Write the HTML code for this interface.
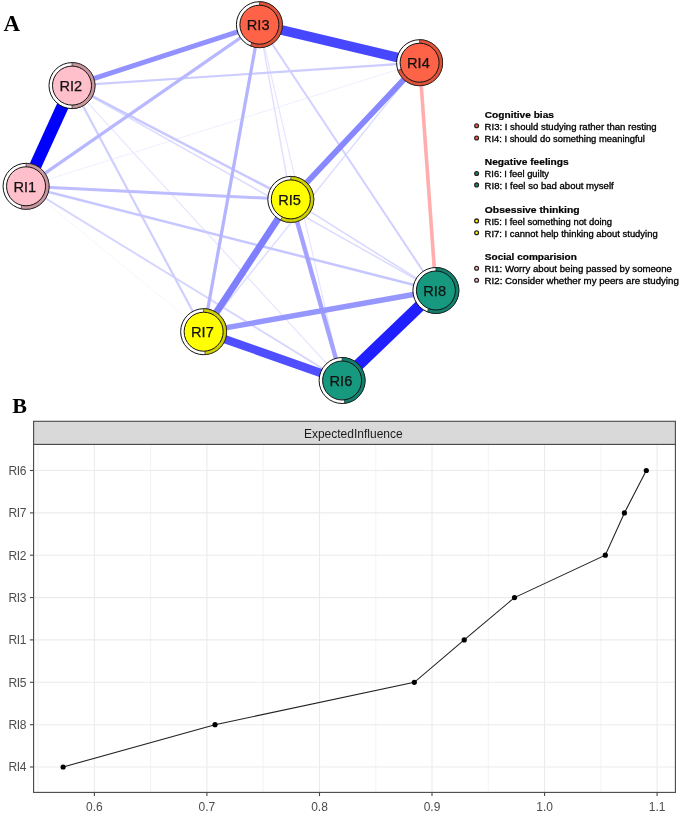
<!DOCTYPE html>
<html><head><meta charset="utf-8"><title>Figure</title>
<style>html,body{margin:0;padding:0;background:#fff}svg{display:block}text{font-family:"Liberation Sans",Arial,sans-serif}.ser{font-family:"Liberation Serif","Times New Roman",serif;font-weight:bold}</style></head><body>
<svg width="685" height="816" viewBox="0 0 685 816">
<rect width="685" height="816" fill="#fff"/>
<g stroke-linecap="butt" fill="none">
<line x1="26.05" y1="186.3" x2="203.65" y2="331.7" stroke="#f2f2ff" stroke-width="0.8"/>
<line x1="26.05" y1="186.3" x2="419.6" y2="62.7" stroke="#ededff" stroke-width="0.9"/>
<line x1="259.4" y1="24.7" x2="342.1" y2="380.5" stroke="#e6e6ff" stroke-width="1.2"/>
<line x1="259.4" y1="24.7" x2="290.8" y2="199.4" stroke="#e0e0ff" stroke-width="1.4"/>
<line x1="419.6" y1="62.7" x2="203.65" y2="331.7" stroke="#dedeff" stroke-width="1.5"/>
<line x1="72.0" y1="85.6" x2="342.1" y2="380.5" stroke="#e6e6ff" stroke-width="1.2"/>
<line x1="72.0" y1="85.6" x2="435.9" y2="290.5" stroke="#dbdbff" stroke-width="1.5"/>
<line x1="26.05" y1="186.3" x2="342.1" y2="380.5" stroke="#d6d6ff" stroke-width="2.0"/>
<line x1="290.8" y1="199.4" x2="435.9" y2="290.5" stroke="#d9d9ff" stroke-width="1.6"/>
<line x1="72.0" y1="85.6" x2="203.65" y2="331.7" stroke="#cfcfff" stroke-width="2.2"/>
<line x1="259.4" y1="24.7" x2="435.9" y2="290.5" stroke="#d1d1ff" stroke-width="2.0"/>
<line x1="72.0" y1="85.6" x2="290.8" y2="199.4" stroke="#c9c9ff" stroke-width="2.5"/>
<line x1="72.0" y1="85.6" x2="419.6" y2="62.7" stroke="#ccccff" stroke-width="2.2"/>
<line x1="26.05" y1="186.3" x2="435.9" y2="290.5" stroke="#c7c7ff" stroke-width="2.5"/>
<line x1="26.05" y1="186.3" x2="290.8" y2="199.4" stroke="#bdbdff" stroke-width="3.0"/>
<line x1="26.05" y1="186.3" x2="259.4" y2="24.7" stroke="#b8b8ff" stroke-width="3.3"/>
<line x1="259.4" y1="24.7" x2="203.65" y2="331.7" stroke="#b5b5ff" stroke-width="3.3"/>
<line x1="419.6" y1="62.7" x2="435.9" y2="290.5" stroke="#ffadad" stroke-width="3.6"/>
<line x1="290.8" y1="199.4" x2="342.1" y2="380.5" stroke="#a3a3ff" stroke-width="4.4"/>
<line x1="203.65" y1="331.7" x2="435.9" y2="290.5" stroke="#9696ff" stroke-width="5.4"/>
<line x1="72.0" y1="85.6" x2="259.4" y2="24.7" stroke="#9191ff" stroke-width="4.9"/>
<line x1="419.6" y1="62.7" x2="290.8" y2="199.4" stroke="#8787ff" stroke-width="5.8"/>
<line x1="290.8" y1="199.4" x2="203.65" y2="331.7" stroke="#8080ff" stroke-width="6.9"/>
<line x1="342.1" y1="380.5" x2="203.65" y2="331.7" stroke="#4f4fff" stroke-width="8.4"/>
<line x1="259.4" y1="24.7" x2="419.6" y2="62.7" stroke="#4747ff" stroke-width="9.7"/>
<line x1="342.1" y1="380.5" x2="435.9" y2="290.5" stroke="#1f1fff" stroke-width="11.6"/>
<line x1="26.05" y1="186.3" x2="72.0" y2="85.6" stroke="#0000ff" stroke-width="12.2"/>
</g>
<circle cx="26.05" cy="186.3" r="23.0" fill="#fff" stroke="#111" stroke-width="1"/>
<path d="M26.05,186.3 L26.05,163.3 A23.0,23.0 0 1 1 21.03,208.75 Z" fill="#C9969F" stroke="#111" stroke-width="0.6"/>
<circle cx="26.05" cy="186.3" r="19.5" fill="#FFC0CB" stroke="#111" stroke-width="1"/>
<text x="24.85" y="192.0" font-size="14.6" text-anchor="middle" fill="#111" stroke="#111" stroke-width="0.25">RI1</text>
<circle cx="72.0" cy="85.6" r="23.0" fill="#fff" stroke="#111" stroke-width="1"/>
<path d="M72.0,85.6 L72.0,62.599999999999994 A23.0,23.0 0 0 1 72.00,108.60 Z" fill="#C9969F" stroke="#111" stroke-width="0.6"/>
<circle cx="72.0" cy="85.6" r="19.5" fill="#FFC0CB" stroke="#111" stroke-width="1"/>
<text x="70.80" y="91.3" font-size="14.6" text-anchor="middle" fill="#111" stroke="#111" stroke-width="0.25">RI2</text>
<circle cx="259.4" cy="24.7" r="23.0" fill="#fff" stroke="#111" stroke-width="1"/>
<path d="M259.4,24.7 L259.4,1.6999999999999993 A23.0,23.0 0 1 1 250.40,45.87 Z" fill="#DE5237" stroke="#111" stroke-width="0.6"/>
<circle cx="259.4" cy="24.7" r="19.5" fill="#FF6347" stroke="#111" stroke-width="1"/>
<text x="258.20" y="30.4" font-size="14.6" text-anchor="middle" fill="#111" stroke="#111" stroke-width="0.25">RI3</text>
<circle cx="419.6" cy="62.7" r="23.0" fill="#fff" stroke="#111" stroke-width="1"/>
<path d="M419.6,62.7 L419.6,39.7 A23.0,23.0 0 1 1 397.91,70.35 Z" fill="#DE5237" stroke="#111" stroke-width="0.6"/>
<circle cx="419.6" cy="62.7" r="19.5" fill="#FF6347" stroke="#111" stroke-width="1"/>
<text x="418.40" y="68.4" font-size="14.6" text-anchor="middle" fill="#111" stroke="#111" stroke-width="0.25">RI4</text>
<circle cx="290.8" cy="199.4" r="23.0" fill="#fff" stroke="#111" stroke-width="1"/>
<path d="M290.8,199.4 L290.8,176.4 A23.0,23.0 0 1 1 280.75,220.09 Z" fill="#D0D000" stroke="#111" stroke-width="0.6"/>
<circle cx="290.8" cy="199.4" r="19.5" fill="#FFFF00" stroke="#111" stroke-width="1"/>
<text x="289.60" y="205.1" font-size="14.6" text-anchor="middle" fill="#111" stroke="#111" stroke-width="0.25">RI5</text>
<circle cx="342.1" cy="380.5" r="23.0" fill="#fff" stroke="#111" stroke-width="1"/>
<path d="M342.1,380.5 L342.1,357.5 A23.0,23.0 0 0 1 344.70,403.35 Z" fill="#12806C" stroke="#111" stroke-width="0.6"/>
<circle cx="342.1" cy="380.5" r="19.5" fill="#17997F" stroke="#111" stroke-width="1"/>
<text x="340.90" y="386.2" font-size="14.6" text-anchor="middle" fill="#111" stroke="#111" stroke-width="0.25">RI6</text>
<circle cx="203.65" cy="331.7" r="23.0" fill="#fff" stroke="#111" stroke-width="1"/>
<path d="M203.65,331.7 L203.65,308.7 A23.0,23.0 0 0 1 205.09,354.65 Z" fill="#D0D000" stroke="#111" stroke-width="0.6"/>
<circle cx="203.65" cy="331.7" r="19.5" fill="#FFFF00" stroke="#111" stroke-width="1"/>
<text x="202.45" y="337.4" font-size="14.6" text-anchor="middle" fill="#111" stroke="#111" stroke-width="0.25">RI7</text>
<circle cx="435.9" cy="290.5" r="23.0" fill="#fff" stroke="#111" stroke-width="1"/>
<path d="M435.9,290.5 L435.9,267.5 A23.0,23.0 0 1 1 427.30,311.83 Z" fill="#12806C" stroke="#111" stroke-width="0.6"/>
<circle cx="435.9" cy="290.5" r="19.5" fill="#17997F" stroke="#111" stroke-width="1"/>
<text x="434.70" y="296.2" font-size="14.6" text-anchor="middle" fill="#111" stroke="#111" stroke-width="0.25">RI8</text>
<text class="ser" x="3.5" y="31" font-size="23">A</text>
<text class="ser" x="12.3" y="413" font-size="22">B</text>
<text x="484.8" y="118.1" font-size="8.7" font-weight="bold" fill="#000" stroke="#000" stroke-width="0.2" textLength="69.1" lengthAdjust="spacingAndGlyphs">Cognitive bias</text>
<circle cx="476.6" cy="125.8" r="1.9" fill="#FF6347" stroke="#2e2424" stroke-width="1.3"/>
<text x="484.6" y="129.6" font-size="8.6" fill="#000" stroke="#000" stroke-width="0.3" textLength="172.1" lengthAdjust="spacingAndGlyphs">RI3: I should studying rather than resting</text>
<circle cx="476.6" cy="138.0" r="1.9" fill="#FF6347" stroke="#2e2424" stroke-width="1.3"/>
<text x="484.6" y="141.8" font-size="8.6" fill="#000" stroke="#000" stroke-width="0.3" textLength="160.3" lengthAdjust="spacingAndGlyphs">RI4: I should do something meaningful</text>
<text x="484.8" y="164.8" font-size="8.7" font-weight="bold" fill="#000" stroke="#000" stroke-width="0.2" textLength="83.9" lengthAdjust="spacingAndGlyphs">Negative feelings</text>
<circle cx="476.6" cy="173.5" r="1.9" fill="#138D75" stroke="#2e2424" stroke-width="1.3"/>
<text x="484.6" y="177.3" font-size="8.6" fill="#000" stroke="#000" stroke-width="0.3" textLength="64.4" lengthAdjust="spacingAndGlyphs">RI6: I feel guilty</text>
<circle cx="476.6" cy="184.9" r="1.9" fill="#138D75" stroke="#2e2424" stroke-width="1.3"/>
<text x="484.6" y="188.7" font-size="8.6" fill="#000" stroke="#000" stroke-width="0.3" textLength="129.1" lengthAdjust="spacingAndGlyphs">RI8: I feel so bad about myself</text>
<text x="484.8" y="212.7" font-size="8.7" font-weight="bold" fill="#000" stroke="#000" stroke-width="0.2" textLength="94.8" lengthAdjust="spacingAndGlyphs">Obsessive thinking</text>
<circle cx="476.6" cy="220.9" r="1.9" fill="#FFFF00" stroke="#2e2424" stroke-width="1.3"/>
<text x="484.6" y="224.7" font-size="8.6" fill="#000" stroke="#000" stroke-width="0.3" textLength="127.5" lengthAdjust="spacingAndGlyphs">RI5: I feel something not doing</text>
<circle cx="476.6" cy="232.7" r="1.9" fill="#FFFF00" stroke="#2e2424" stroke-width="1.3"/>
<text x="484.6" y="236.5" font-size="8.6" fill="#000" stroke="#000" stroke-width="0.3" textLength="173.1" lengthAdjust="spacingAndGlyphs">RI7: I cannot help thinking about studying</text>
<text x="484.8" y="260.4" font-size="8.7" font-weight="bold" fill="#000" stroke="#000" stroke-width="0.2" textLength="92.1" lengthAdjust="spacingAndGlyphs">Social comparision</text>
<circle cx="476.6" cy="268.2" r="1.9" fill="#FFC0CB" stroke="#2e2424" stroke-width="1.3"/>
<text x="484.6" y="272.0" font-size="8.6" fill="#000" stroke="#000" stroke-width="0.3" textLength="187.3" lengthAdjust="spacingAndGlyphs">RI1: Worry about being passed by someone</text>
<circle cx="476.6" cy="280.3" r="1.9" fill="#FFC0CB" stroke="#2e2424" stroke-width="1.3"/>
<text x="484.6" y="284.1" font-size="8.6" fill="#000" stroke="#000" stroke-width="0.3" textLength="194.2" lengthAdjust="spacingAndGlyphs">RI2: Consider whether my peers are studying</text>
<rect x="33.6" y="444.4" width="641.8" height="348.0" fill="#fff"/>
<line x1="38.1" y1="444.4" x2="38.1" y2="792.4" stroke="#ebebeb" stroke-width="0.6"/>
<line x1="150.7" y1="444.4" x2="150.7" y2="792.4" stroke="#ebebeb" stroke-width="0.6"/>
<line x1="263.2" y1="444.4" x2="263.2" y2="792.4" stroke="#ebebeb" stroke-width="0.6"/>
<line x1="375.8" y1="444.4" x2="375.8" y2="792.4" stroke="#ebebeb" stroke-width="0.6"/>
<line x1="488.3" y1="444.4" x2="488.3" y2="792.4" stroke="#ebebeb" stroke-width="0.6"/>
<line x1="600.8" y1="444.4" x2="600.8" y2="792.4" stroke="#ebebeb" stroke-width="0.6"/>
<line x1="94.4" y1="444.4" x2="94.4" y2="792.4" stroke="#ebebeb" stroke-width="1.1"/>
<line x1="206.9" y1="444.4" x2="206.9" y2="792.4" stroke="#ebebeb" stroke-width="1.1"/>
<line x1="319.5" y1="444.4" x2="319.5" y2="792.4" stroke="#ebebeb" stroke-width="1.1"/>
<line x1="432.0" y1="444.4" x2="432.0" y2="792.4" stroke="#ebebeb" stroke-width="1.1"/>
<line x1="544.6" y1="444.4" x2="544.6" y2="792.4" stroke="#ebebeb" stroke-width="1.1"/>
<line x1="657.1" y1="444.4" x2="657.1" y2="792.4" stroke="#ebebeb" stroke-width="1.1"/>
<line x1="33.6" y1="470.5" x2="675.4" y2="470.5" stroke="#ebebeb" stroke-width="1.1"/>
<line x1="33.6" y1="512.9" x2="675.4" y2="512.9" stroke="#ebebeb" stroke-width="1.1"/>
<line x1="33.6" y1="555.2" x2="675.4" y2="555.2" stroke="#ebebeb" stroke-width="1.1"/>
<line x1="33.6" y1="597.6" x2="675.4" y2="597.6" stroke="#ebebeb" stroke-width="1.1"/>
<line x1="33.6" y1="639.9" x2="675.4" y2="639.9" stroke="#ebebeb" stroke-width="1.1"/>
<line x1="33.6" y1="682.3" x2="675.4" y2="682.3" stroke="#ebebeb" stroke-width="1.1"/>
<line x1="33.6" y1="724.7" x2="675.4" y2="724.7" stroke="#ebebeb" stroke-width="1.1"/>
<line x1="33.6" y1="767.0" x2="675.4" y2="767.0" stroke="#ebebeb" stroke-width="1.1"/>
<polyline points="646.3,470.5 624.4,512.9 605.3,555.2 514.5,597.6 464.2,639.9 414.3,682.3 215.0,724.7 63.1,767.0" fill="none" stroke="#222" stroke-width="1.1"/>
<circle cx="646.3" cy="470.5" r="2.6" fill="#000"/>
<circle cx="624.4" cy="512.9" r="2.6" fill="#000"/>
<circle cx="605.3" cy="555.2" r="2.6" fill="#000"/>
<circle cx="514.5" cy="597.6" r="2.6" fill="#000"/>
<circle cx="464.2" cy="639.9" r="2.6" fill="#000"/>
<circle cx="414.3" cy="682.3" r="2.6" fill="#000"/>
<circle cx="215.0" cy="724.7" r="2.6" fill="#000"/>
<circle cx="63.1" cy="767.0" r="2.6" fill="#000"/>
<rect x="33.6" y="444.4" width="641.8" height="348.0" fill="none" stroke="#484848" stroke-width="1.1"/>
<rect x="33.6" y="421.3" width="641.8" height="23.099999999999966" fill="#d9d9d9" stroke="#484848" stroke-width="1.1"/>
<text x="353.3" y="438" font-size="12" text-anchor="middle" fill="#1a1a1a">ExpectedInfluence</text>
<line x1="29.900000000000002" y1="470.5" x2="33.6" y2="470.5" stroke="#484848" stroke-width="1.1"/>
<text x="26.1" y="474.8" font-size="12" text-anchor="end" letter-spacing="-0.35" fill="#4d4d4d">RI6</text>
<line x1="29.900000000000002" y1="512.9" x2="33.6" y2="512.9" stroke="#484848" stroke-width="1.1"/>
<text x="26.1" y="517.2" font-size="12" text-anchor="end" letter-spacing="-0.35" fill="#4d4d4d">RI7</text>
<line x1="29.900000000000002" y1="555.2" x2="33.6" y2="555.2" stroke="#484848" stroke-width="1.1"/>
<text x="26.1" y="559.5" font-size="12" text-anchor="end" letter-spacing="-0.35" fill="#4d4d4d">RI2</text>
<line x1="29.900000000000002" y1="597.6" x2="33.6" y2="597.6" stroke="#484848" stroke-width="1.1"/>
<text x="26.1" y="601.9" font-size="12" text-anchor="end" letter-spacing="-0.35" fill="#4d4d4d">RI3</text>
<line x1="29.900000000000002" y1="639.9" x2="33.6" y2="639.9" stroke="#484848" stroke-width="1.1"/>
<text x="26.1" y="644.2" font-size="12" text-anchor="end" letter-spacing="-0.35" fill="#4d4d4d">RI1</text>
<line x1="29.900000000000002" y1="682.3" x2="33.6" y2="682.3" stroke="#484848" stroke-width="1.1"/>
<text x="26.1" y="686.6" font-size="12" text-anchor="end" letter-spacing="-0.35" fill="#4d4d4d">RI5</text>
<line x1="29.900000000000002" y1="724.7" x2="33.6" y2="724.7" stroke="#484848" stroke-width="1.1"/>
<text x="26.1" y="729.0" font-size="12" text-anchor="end" letter-spacing="-0.35" fill="#4d4d4d">RI8</text>
<line x1="29.900000000000002" y1="767.0" x2="33.6" y2="767.0" stroke="#484848" stroke-width="1.1"/>
<text x="26.1" y="771.3" font-size="12" text-anchor="end" letter-spacing="-0.35" fill="#4d4d4d">RI4</text>
<line x1="94.4" y1="792.4" x2="94.4" y2="796.1" stroke="#484848" stroke-width="1.1"/>
<text x="94.4" y="810.5" font-size="12" text-anchor="middle" fill="#4d4d4d">0.6</text>
<line x1="206.9" y1="792.4" x2="206.9" y2="796.1" stroke="#484848" stroke-width="1.1"/>
<text x="206.9" y="810.5" font-size="12" text-anchor="middle" fill="#4d4d4d">0.7</text>
<line x1="319.5" y1="792.4" x2="319.5" y2="796.1" stroke="#484848" stroke-width="1.1"/>
<text x="319.5" y="810.5" font-size="12" text-anchor="middle" fill="#4d4d4d">0.8</text>
<line x1="432.0" y1="792.4" x2="432.0" y2="796.1" stroke="#484848" stroke-width="1.1"/>
<text x="432.0" y="810.5" font-size="12" text-anchor="middle" fill="#4d4d4d">0.9</text>
<line x1="544.6" y1="792.4" x2="544.6" y2="796.1" stroke="#484848" stroke-width="1.1"/>
<text x="544.6" y="810.5" font-size="12" text-anchor="middle" fill="#4d4d4d">1.0</text>
<line x1="657.1" y1="792.4" x2="657.1" y2="796.1" stroke="#484848" stroke-width="1.1"/>
<text x="657.1" y="810.5" font-size="12" text-anchor="middle" fill="#4d4d4d">1.1</text>
</svg></body></html>
